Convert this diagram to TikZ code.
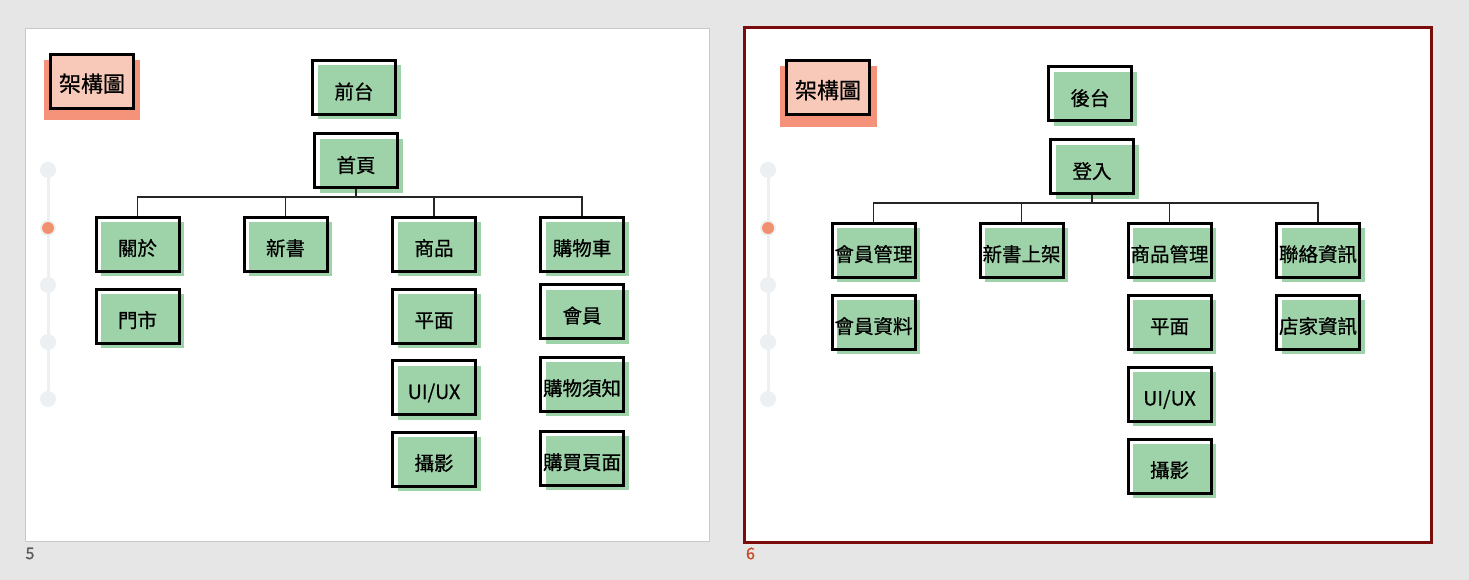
\documentclass[tikz,border=0pt]{standalone}
\usepackage{fontspec}
\setmainfont{Noto Sans CJK TC}[FakeBold=0.7]
\usetikzlibrary{shadows}
\definecolor{bg}{HTML}{E6E6E6}
\definecolor{gr}{HTML}{9ED2A8}
\definecolor{salm}{HTML}{F4937A}
\definecolor{pinkf}{HTML}{F8C9B9}
\definecolor{tl}{HTML}{EDF0F2}
\definecolor{dotc}{HTML}{F0906E}
\definecolor{framec}{HTML}{7B0C0C}
\definecolor{numc}{HTML}{C8461E}
\definecolor{slideb}{HTML}{C8C8C8}
\begin{document}
\begin{tikzpicture}[x=1pt,y=-1pt,
  gbox/.style={draw=black, line width=3pt, minimum width=83pt, minimum height=54pt,
    inner sep=0pt, text height=23pt, text depth=0pt,
    font=\fontsize{19.5}{20}\selectfont,
    general shadow={fill=gr, shadow xshift=5pt, shadow yshift=-5pt}},
  tbox/.style={draw=black, line width=3pt, fill=pinkf, minimum width=83pt, minimum height=54pt,
    inner sep=0pt, text height=21pt, text depth=0pt, font=\fontsize{22}{23}\selectfont},
  tshadow/.style={fill=salm},
  conn/.style={draw=black!85, line width=1.5pt},
  tline/.style={draw=tl, line width=3pt},
  tdot/.style={fill=tl},
  adot/.style={fill=dotc},
  numlab/.style={font=\fontsize{16}{17}\selectfont, inner sep=0pt}
]
% background and slides
\fill[bg] (0,0) rectangle (1469,580);
\draw[fill=white, draw=slideb, line width=1pt] (25.5,28.5) rectangle (709,541);
\draw[fill=white, draw=framec, line width=3pt] (744.5,27.5) rectangle (1431.5,542.5);
\node[numlab, text=black!65] (n5) at (30,553.5) {5};
\node[numlab, text=numc] (n6) at (750.5,553.5) {6};

% timelines
\foreach \tx in {48,768}{
  \draw[tline] (\tx,170) -- (\tx,399);
  \foreach \ty in {170,228,285,342,399}{ \fill[tdot] (\tx,\ty) circle (8); }
  \fill[adot] (\tx,228) circle (6);
}

% ---------- left slide ----------
\fill[tshadow] (44,60) rectangle (140,120);
\node[tbox] (titleL) at (92,81.5) {架構圖};

\node[gbox] (qiantai) at (354,87.5) {前台};
\node[gbox] (shouye) at (356,161) {首頁};

\node[gbox] (guanyu) at (137.5,244) {關於};
\node[gbox] (menshi) at (137.5,316) {門市};
\node[gbox] (xinshu) at (285.5,244) {新書};
\node[gbox] (shangpin) at (434,244) {商品};
\node[gbox] (pingmian) at (434,316) {平面};
\node[gbox] (uiux) at (434,387.5) {UI/UX};
\node[gbox] (sheying) at (434,459) {攝影};
\node[gbox] (gouwuche) at (582,244) {購物車};
\node[gbox] (huiyuan) at (582,311.5) {會員};
\node[gbox] (xuzhi) at (582,384) {購物須知};
\node[gbox] (goumai) at (582,458) {購買頁面};

\coordinate (barL) at (0,197);
\foreach \c in {guanyu,xinshu,shangpin,gouwuche}{
  \draw[conn] (shouye.south) -- (shouye.south |- barL) -| (\c.north);
}

% ---------- right slide ----------
\fill[tshadow] (780,66) rectangle (877,127);
\node[tbox] (titleR) at (828,88) {架構圖};

\node[gbox] (houtai) at (1090,94) {後台};
\node[gbox] (denglu) at (1092,167) {登入};

\node[gbox] (hygl) at (873.5,250) {會員管理};
\node[gbox] (hyzl) at (873.5,322) {會員資料};
\node[gbox] (xssj) at (1021.5,250) {新書上架};
\node[gbox] (spgl) at (1169.5,250) {商品管理};
\node[gbox] (pingmianR) at (1169.5,322) {平面};
\node[gbox] (uiuxR) at (1169.5,394) {UI/UX};
\node[gbox] (sheyingR) at (1169.5,466) {攝影};
\node[gbox] (llzx) at (1318,250) {聯絡資訊};
\node[gbox] (djzx) at (1318,322) {店家資訊};

\coordinate (barR) at (0,203);
\foreach \c in {hygl,xssj,spgl,llzx}{
  \draw[conn] (denglu.south) -- (denglu.south |- barR) -| (\c.north);
}
\end{tikzpicture}
\end{document}
